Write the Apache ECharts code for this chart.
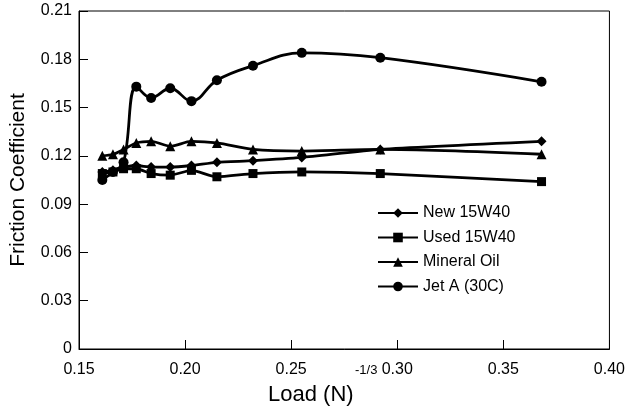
<!DOCTYPE html>
<html>
<head>
<meta charset="utf-8">
<script src="https://cdn.jsdelivr.net/npm/echarts@6/dist/echarts.min.js"></script>
<style>
  html, body { margin: 0; padding: 0; background: #fff; }
  #chart { width: 628px; height: 411px; }
</style>
</head>
<body>
<div id="chart"></div>
<script>
// load^(-1/3) positions
const loads = [0.161, 0.166, 0.171, 0.177, 0.184, 0.193, 0.203, 0.215, 0.232, 0.255, 0.292, 0.368]

const new15w40 = [0.110, 0.111, 0.113, 0.114, 0.113, 0.113, 0.114, 0.116, 0.117, 0.119, 0.124, 0.129]
const used15w40 = [0.109, 0.110, 0.112, 0.112, 0.109, 0.108, 0.111, 0.107, 0.109, 0.110, 0.109, 0.104]
const mineralOil = [0.120, 0.121, 0.124, 0.128, 0.129, 0.126, 0.129, 0.128, 0.124, 0.123, 0.124, 0.121]
const jetA = [0.105, 0.110, 0.116, 0.163, 0.156, 0.162, 0.154, 0.167, 0.176, 0.184, 0.181, 0.166]

const xTicks = [0.15, 0.20, 0.25, 0.30, 0.35, 0.40]
const yTicks = [0, 0.03, 0.06, 0.09, 0.12, 0.15, 0.18, 0.21]

const font = "'Liberation Sans', Arial, sans-serif"

const chart = echarts.init(document.getElementById('chart'))

function line(name, values, symbol, size, smooth) {
  return {
    name,
    type: 'line',
    data: loads.map((x, i) => [x, values[i]]),
    symbol,
    symbolSize: size,
    smooth,
    lineStyle: { color: '#000', width: 2.8 },
    itemStyle: { color: '#000' },
    animation: false
  }
}

chart.setOption({
  textStyle: { fontFamily: font },
  grid: {
    left: 79,
    right: 10,
    top: 11,
    bottom: 62,
    show: true,
    borderColor: '#000',
    borderWidth: 1
  },
  legend: {
    orient: 'vertical',
    left: 372,
    top: 200,
    itemWidth: 40,
    itemHeight: 12,
    itemGap: 8.5,
    textStyle: { fontFamily: font, fontSize: 16, color: '#000' },
    data: ['New 15W40', 'Used 15W40', 'Mineral Oil', 'Jet A (30C)']
  },
  xAxis: {
    type: 'value',
    min: xTicks[0],
    max: xTicks[xTicks.length - 1],
    interval: 0.05,
    axisLine: { lineStyle: { color: '#000', width: 1 } },
    axisTick: { inside: true, length: 9, lineStyle: { color: '#000' } },
    axisLabel: {
      color: '#000',
      fontSize: 16,
      fontFamily: font,
      margin: 13,
      formatter: v => v.toFixed(2)
    },
    splitLine: { show: false }
  },
  yAxis: {
    type: 'value',
    min: yTicks[0],
    max: yTicks[yTicks.length - 1],
    interval: 0.03,
    name: 'Friction Coefficient',
    nameLocation: 'middle',
    nameGap: 50,
    nameTextStyle: { color: '#000', fontSize: 21, fontFamily: font },
    axisLine: { lineStyle: { color: '#000', width: 1 } },
    axisTick: { inside: true, length: 9, lineStyle: { color: '#000' } },
    axisLabel: {
      color: '#000',
      fontSize: 16,
      fontFamily: font,
      margin: 7,
      formatter: v => (v === 0 ? '0' : v.toFixed(2))
    },
    splitLine: { show: false }
  },
  graphic: [
    {
      type: 'text',
      left: 268,
      top: 384,
      style: { text: 'Load (N)', fontSize: 22, fontFamily: font, fill: '#000' }
    },
    {
      type: 'text',
      left: 355,
      top: 364,
      style: { text: '-1/3', fontSize: 13, fontFamily: font, fill: '#000' }
    }
  ],
  series: [
    line('New 15W40', new15w40, 'diamond', 10, 0.2),
    line('Used 15W40', used15w40, 'rect', 9, 0.2),
    line('Mineral Oil', mineralOil, 'triangle', 10, 0.3),
    line('Jet A (30C)', jetA, 'circle', 10, 0.4)
  ]
})
</script>
</body>
</html>
